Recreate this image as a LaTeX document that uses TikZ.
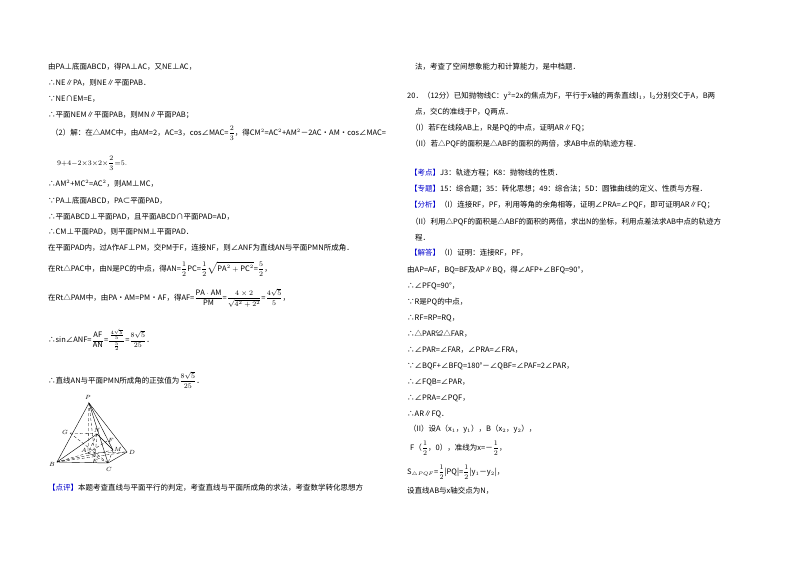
\documentclass[tikz,border=0pt]{standalone}
\usepackage{fontspec}
\setmainfont{Noto Sans CJK SC}
\newcommand{\bfr}[2]{{\displaystyle\frac{#1}{#2}}}
\begin{document}
\begin{tikzpicture}[x=1pt,y=-1pt,
  t/.style={anchor=west,inner sep=0pt,font=\fontsize{7.5}{9}\selectfont},
  lbl/.style={inner sep=0pt,font=\fontsize{6.5}{7}\selectfont},
  dl/.style={densely dashed,line width=0.3pt},
  sl/.style={line width=0.4pt}]
\useasboundingbox (0,0) rectangle (800,565);
% left column
\node[t] (l1) at (48,67) {由PA⊥底面ABCD，得PA⊥AC，又NE⊥AC，};
\node[t] (l2) at (48,83) {∴NE∥PA，则NE∥平面PAB．};
\node[t] (l3) at (48,99) {∵NE∩EM=E，};
\node[t] (l4) at (48,115) {∴平面NEM∥平面PAB，则MN∥平面PAB；};
\node[t] (l5) at (51,133) {（2）解：在△AMC中，由AM=2，AC=3，cos∠MAC=$\bfr{2}{3}$，得CM$^2$=AC$^2$+AM$^2$－2AC•AM•cos∠MAC=};
\node[t] (l6) at (57,163) {$9{+}4{-}2{\times}3{\times}2{\times}\bfr{2}{3}{=}5.$};
\node[t] (l7) at (48,184) {∴AM$^2$+MC$^2$=AC$^2$，则AM⊥MC，};
\node[t] (l8) at (48,201) {∵PA⊥底面ABCD，PA⊂平面PAD，};
\node[t] (l9) at (48,217) {∴平面ABCD⊥平面PAD，且平面ABCD∩平面PAD=AD，};
\node[t] (l10) at (48,232) {∴CM⊥平面PAD，则平面PNM⊥平面PAD．};
\node[t] (l11) at (48,248) {在平面PAD内，过A作AF⊥PM，交PM于F，连接NF，则∠ANF为直线AN与平面PMN所成角．};
\node[t] (l12) at (48,269) {在Rt△PAC中，由N是PC的中点，得AN=$\bfr12$PC=$\bfr12\sqrt{\mathrm{PA}^2+\mathrm{PC}^2}$=$\bfr52$，};
\node[t] (l13) at (48,298) {在Rt△PAM中，由PA•AM=PM•AF，得AF=$\bfr{\mathrm{PA}\cdot\mathrm{AM}}{\mathrm{PM}}$=$\bfr{4\times2}{\sqrt{4^2+2^2}}$=$\bfr{4\sqrt5}{5}$，};
\node[t] (l14) at (48,340) {∴sin∠ANF=$\bfr{\mathrm{AF}}{\mathrm{AN}}$=$\bfr{\frac{4\sqrt5}{5}}{\frac52}$=$\bfr{8\sqrt5}{25}$．};
\node[t] (l15) at (48,380) {∴直线AN与平面PMN所成角的正弦值为$\bfr{8\sqrt5}{25}$．};
\node[t] (l16) at (48,488) {\textcolor{blue!80!black}{【点评】}本题考查直线与平面平行的判定，考查直线与平面所成角的求法，考查数学转化思想方};
% figure
\coordinate (P) at (89,403); \coordinate (B) at (57,462); \coordinate (C) at (108,463);
\coordinate (D) at (127,452); \coordinate (A) at (88,453); \coordinate (G) at (70,433);
\coordinate (N) at (97,434); \coordinate (F) at (107,441); \coordinate (M) at (113,450);
\coordinate (E) at (95,457);
\draw[sl] (P)--(B)--(C)--(D)--(P)--(C);
\draw[sl] (B)--(N)--(M);
\draw[sl] (P)--(M);
\draw[dl] (P)--(A)--(B); \draw[dl] (A)--(D); \draw[dl] (A)--(C); \draw[dl] (G)--(N);
\draw[dl] (N)--(E); \draw[dl] (B)--(M); \draw[dl] (A)--(F); \draw[dl] (N)--(A); \draw[dl] (G)--(C);
\draw[dl] (B)--(D); \draw[dl] (M)--(C); \draw[dl] (P)--(E);
\node[lbl] at (88,397) {$P$}; \node[lbl] at (52,464) {$B$}; \node[lbl] at (109,469) {$C$};
\node[lbl] at (132,452) {$D$}; \node[lbl] at (84,450) {$A$}; \node[lbl] at (65,432) {$G$};
\node[lbl] at (97,430) {$N$}; \node[lbl] at (111,440) {$F$}; \node[lbl] at (118,449) {$M$};
\node[lbl] at (95,461) {$E$};
% right column
\node[t] (r1) at (415,67) {法，考查了空间想象能力和计算能力，是中档题．};
\node[t] (r2) at (407,96) {20．（12分）已知抛物线C：y$^2$=2x的焦点为F，平行于x轴的两条直线l$_1$，l$_2$分别交C于A，B两};
\node[t] (r3) at (415,112) {点，交C的准线于P，Q两点．};
\node[t] (r4) at (411,128) {（I）若F在线段AB上，R是PQ的中点，证明AR∥FQ；};
\node[t] (r5) at (411,144) {（II）若△PQF的面积是△ABF的面积的两倍，求AB中点的轨迹方程．};
\node[t] (r6) at (410,173) {\textcolor{blue!80!black}{【考点】}J3：轨迹方程；K8：抛物线的性质．};
\node[t] (r7) at (410,189) {\textcolor{blue!80!black}{【专题】}15：综合题；35：转化思想；49：综合法；5D：圆锥曲线的定义、性质与方程．};
\node[t] (r8) at (410,205) {\textcolor{blue!80!black}{【分析】}（I）连接RF，PF，利用等角的余角相等，证明∠PRA=∠PQF，即可证明AR∥FQ；};
\node[t] (r9) at (411,222) {（II）利用△PQF的面积是△ABF的面积的两倍，求出N的坐标，利用点差法求AB中点的轨迹方};
\node[t] (r10) at (415,238) {程．};
\node[t] (r11) at (410,253) {\textcolor{blue!80!black}{【解答】}（I）证明：连接RF，PF，};
\node[t] (r12) at (407,270) {由AP=AF，BQ=BF及AP∥BQ，得∠AFP+∠BFQ=90°，};
\node[t] (r13) at (407,286) {∴∠PFQ=90°，};
\node[t] (r14) at (407,302) {∵R是PQ的中点，};
\node[t] (r15) at (407,318) {∴RF=RP=RQ，};
\node[t] (r16) at (407,334) {∴△PAR≌△FAR，};
\node[t] (r17) at (407,350) {∴∠PAR=∠FAR，∠PRA=∠FRA，};
\node[t] (r18) at (407,366) {∵∠BQF+∠BFQ=180°－∠QBF=∠PAF=2∠PAR，};
\node[t] (r19) at (407,382) {∴∠FQB=∠PAR，};
\node[t] (r20) at (407,398) {∴∠PRA=∠PQF，};
\node[t] (r21) at (407,414) {∴AR∥FQ．};
\node[t] (r22) at (409,429) {（II）设A（x$_1$，y$_1$），B（x$_2$，y$_2$），};
\node[t] (r23) at (410,448) {F（$\bfr12$，0），准线为x=－$\bfr12$，};
\node[t] (r24) at (407,472) {S$_{\triangle PQF}$=$\bfr12$|PQ|=$\bfr12$|y$_1$－y$_2$|，};
\node[t] (r25) at (407,491) {设直线AB与x轴交点为N，};
\end{tikzpicture}
\end{document}
